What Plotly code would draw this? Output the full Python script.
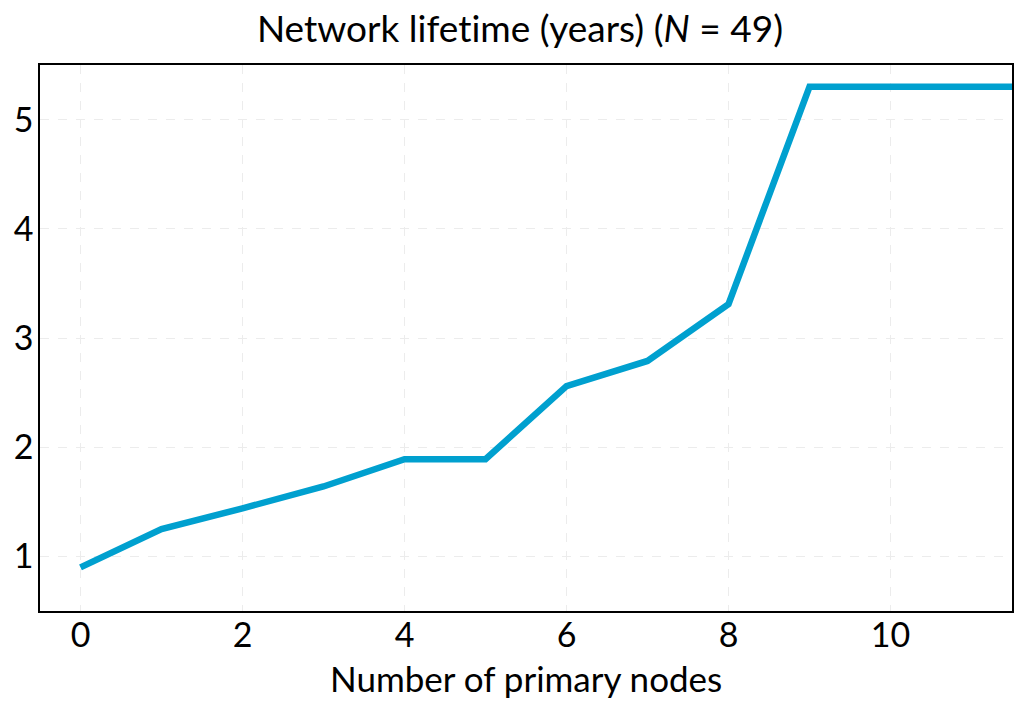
import plotly.graph_objects as go

# datos
primary_nodes = [0, 1, 2, 3, 4, 5, 6, 7, 8, 9, 10, 11, 12]
lifetime_years = [0.90, 1.25, 1.44, 1.64, 1.89, 1.89, 2.56, 2.79, 3.31, 5.30, 5.30, 5.30, 5.30]

x_ticks = [0, 2, 4, 6, 8, 10]
y_ticks = [1, 2, 3, 4, 5]

font_name = "Lato"

fig = go.Figure()
fig.add_trace(go.Scatter(
    x=primary_nodes, y=lifetime_years,
    mode="lines",
    line=dict(color="#00a0cf", width=6.5),
    hoverinfo="x+y"))

fig.update_layout(
    width=1024, height=708,
    paper_bgcolor="white", plot_bgcolor="white",
    showlegend=False,
    font=dict(family=font_name, color="black", size=34),
    # \u200c evita la ligadura "ti" de Lato
    title=dict(text="Network lifet\u200cime (years) (<i>N</i> = 49)",
               x=0.5, xanchor="center", y=0.97, yanchor="middle",
               font=dict(size=37)),
    # la pagina deja 8px de margen, se compensa aqui
    margin=dict(l=32, r=20, t=57, b=105),
    xaxis=dict(
        range=[-0.5, 11.5],
        tickvals=x_ticks,
        automargin=False,
        ticklabelstandoff=-7,
        showgrid=True, gridcolor="#ececec", griddash="dash", gridwidth=1,
        zeroline=False,
        showline=True, linecolor="black", linewidth=1.5, mirror=True,
        ticks="", ticklen=0,
    ),
    yaxis=dict(
        range=[0.5, 5.5],
        tickvals=y_ticks,
        automargin=False,
        ticklabelstandoff=-2,
        showgrid=True, gridcolor="#ececec", griddash="dash", gridwidth=1,
        zeroline=False,
        showline=True, linecolor="black", linewidth=1.5, mirror=True,
        ticks="", ticklen=0,
    ),
    # titulo del eje x como anotacion para fijar su posicion
    annotations=[dict(
        text="Number of primary nodes",
        xref="paper", yref="paper",
        x=0.5, y=-0.123, xanchor="center", yanchor="middle",
        showarrow=False, font=dict(size=35))],
)

fig.write_html("out.html")
